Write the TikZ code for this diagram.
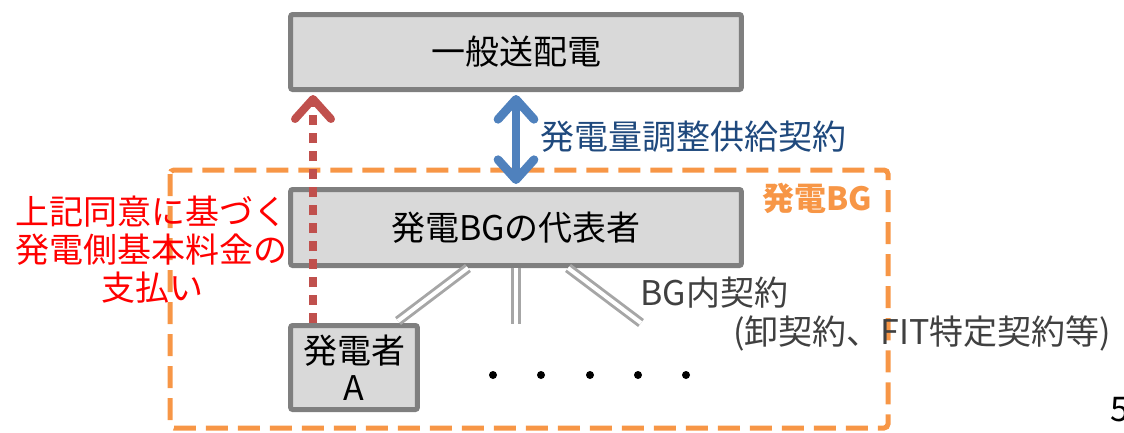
\documentclass[tikz,border=0pt]{standalone}
\usepackage{fontspec}
\setmainfont{Noto Sans CJK JP}
\usetikzlibrary{arrows.meta,calc}
\definecolor{boxfill}{HTML}{D9D9D9}
\definecolor{boxline}{HTML}{7F7F7F}
\definecolor{bgorange}{HTML}{F79646}
\definecolor{arrblue}{HTML}{4F81BD}
\definecolor{arrred}{HTML}{C0504D}
\definecolor{labblue}{HTML}{1F497D}
\definecolor{dgray}{HTML}{404040}
\definecolor{lgray}{HTML}{A6A6A6}
\tikzset{
  boxnode/.style={draw=boxline, fill=boxfill, line width=3.75pt, rounded corners=1.5pt, inner sep=0pt, align=center, font=\fontsize{25.5}{30}\selectfont},
  txt/.style={inner sep=0pt, font=\fontsize{25.5}{28.5}\selectfont},
  dbl/.style={draw=lgray, double=white, double distance=3pt, line width=2.2pt},
  dotnode/.style={circle, fill=black, inner sep=0pt, minimum size=6pt},
  barb/.style={Straight Barb[round,length=15pt,width=27pt]}
}
\begin{document}
\begin{tikzpicture}[x=0.75pt,y=-0.75pt]
\useasboundingbox (0,0) rectangle (1124,432);
% orange BG frame
\draw[bgorange, line width=3.75pt, dash pattern=on 16.5pt off 7.5pt, rounded corners=3pt] (170,170) rectangle (888,428);
% boxes
\node[boxnode, minimum width=338pt, minimum height=56.25pt] (gen) at (516,52) {一般送配電};
\node[boxnode, minimum width=338pt, minimum height=57pt] (rep) at (516,227.5) {発電BGの代表者};
\node[boxnode, minimum width=95pt, minimum height=63pt] (ga) at (354,367.5) {発電者\\[-2pt]A};
% coordinates
\coordinate (redx) at (313,0);
\coordinate (lx) at (468,0);
\coordinate (mx) at (516,0);
\coordinate (rx) at (568,0);
\coordinate (mend) at (516,324);
\coordinate (rend) at (641,323);
\coordinate (lend) at (398,321);
% double lines
\draw[dbl] (rep.south -| lx) -- (lend);
\draw[dbl] (rep.south -| mx) -- (mend);
\draw[dbl] (rep.south -| rx) -- (rend);
% blue double arrow
\draw[arrblue, line width=6.5pt, {Straight Barb[round,length=15pt,width=27pt]}-{Straight Barb[round,length=15pt,width=27pt]}] ($(rep.north)+(0,-3)$) -- ($(gen.south)+(0,3)$);
% red dotted arrow
\draw[arrred, line width=6pt, dash pattern=on 7.5pt off 6pt, -{Straight Barb[round,length=15pt,width=27pt]}] (ga.north -| redx) -- ($(gen.south -| redx)+(0,3)$);
% labels
\node[txt, text=labblue, anchor=west] (lab) at (540,137) {発電量調整供給契約};
\node[txt, text=bgorange, anchor=east, font=\fontsize{24}{28}\selectfont\bfseries] (bglab) at (872,198) {発電BG};
\node[txt, text=red, align=center] (pay) at (152,250) {上記同意に基づく\\発電側基本料金の\\支払い};
\node[txt, text=dgray, anchor=west] (bgc) at (640,293) {BG内契約};
\node[txt, text=dgray, anchor=west] (bgc2) at (733,333) {(卸契約、FIT特定契約等)};
% dots
\node[dotnode] (d1) at (493,375) {};
\node[dotnode] (d2) at (541,375) {};
\node[dotnode] (d3) at (590,375) {};
\node[dotnode] (d4) at (638,375) {};
\node[dotnode] (d5) at (686,375) {};
% page number
\node[txt, anchor=west] (pg) at (1110,410) {5};
\end{tikzpicture}
\end{document}
